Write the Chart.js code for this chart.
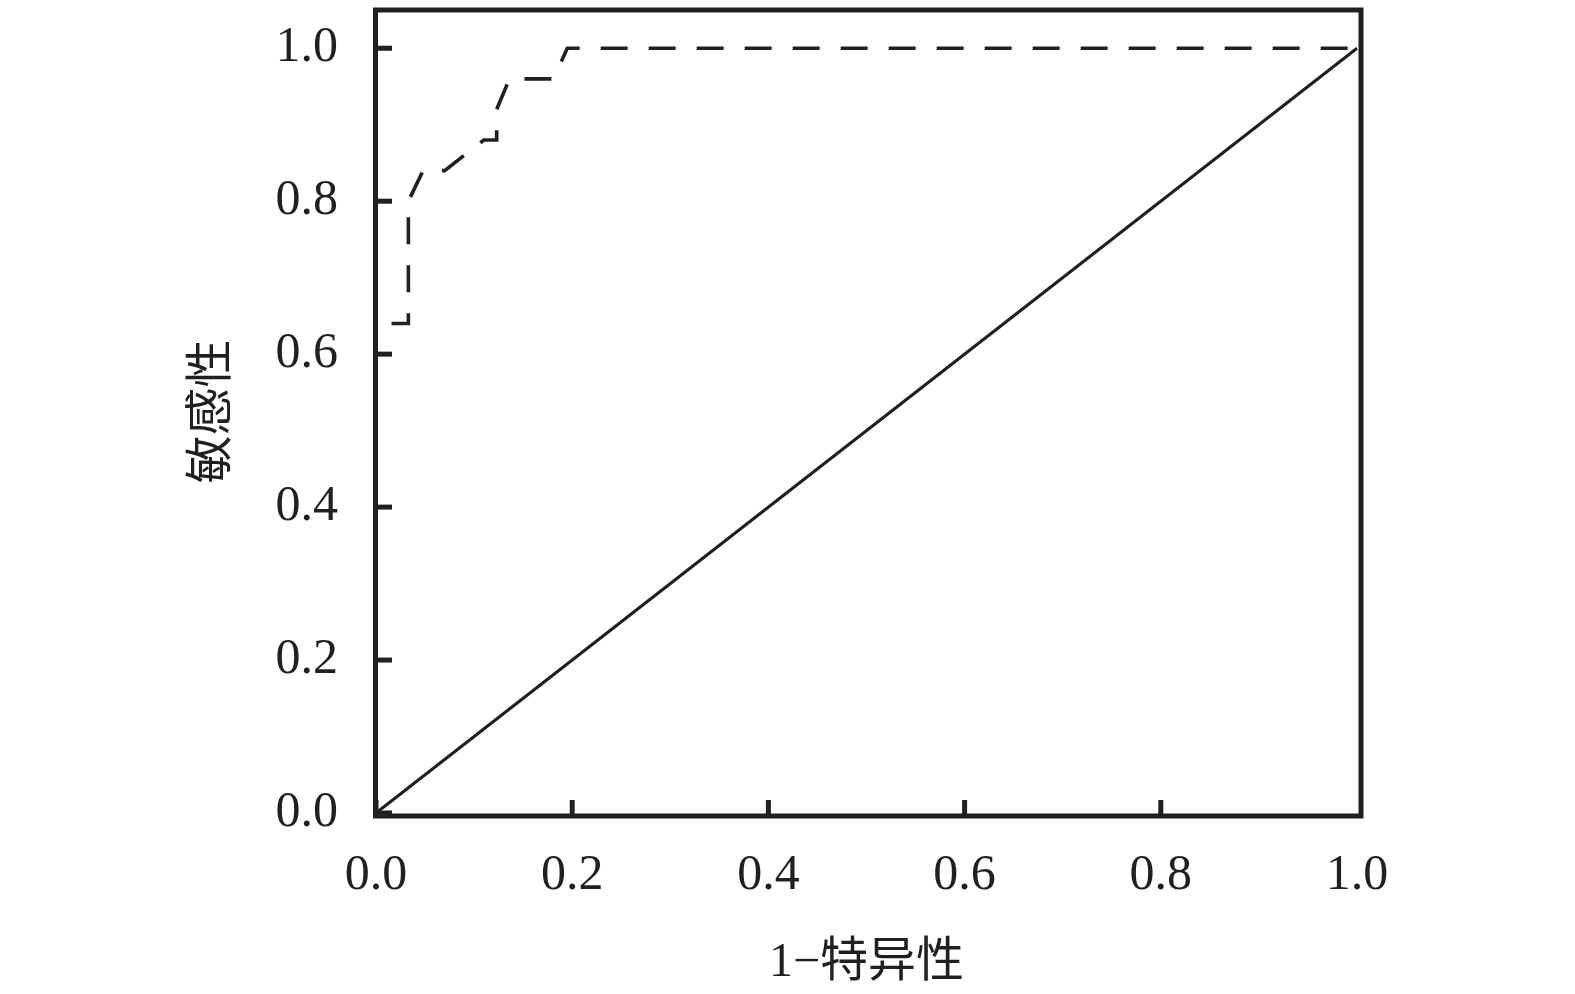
<!DOCTYPE html>
<html>
<head>
<meta charset="utf-8">
<script src="https://cdn.jsdelivr.net/npm/chart.js@4/dist/chart.umd.min.js"></script>
<style>
html,body{margin:0;padding:0;background:#fff;}
#wrap{width:1575px;height:994px;position:relative;}
</style>
</head>
<body>
<div id="wrap"><canvas id="c" width="1575" height="994"></canvas></div>
<script>
// ROC curve (1 - specificity, sensitivity)
const rocFpr = [0, 0, 0.033, 0.033, 0.048, 0.070, 0.110, 0.123, 0.123, 0.136, 0.181, 0.195, 1.0];
const rocTpr = [0, 0.64, 0.64, 0.80, 0.84, 0.84, 0.88, 0.88, 0.92, 0.96, 0.96, 1.0, 1.0];
// Reference diagonal
const refX = [0, 1];
const refY = [0, 1];
// Tick labels
const xTicks = [0.0, 0.2, 0.4, 0.6, 0.8, 1.0];
const yTicks = [0.0, 0.2, 0.4, 0.6, 0.8, 1.0];
const xTitle = '1\u2212特异性';
const yTitle = '敏感性';

const INK = '#231f20';
const tickFont = {family: "'Liberation Serif', 'Times New Roman', serif", size: 50};
const titleFont = {family: "'Liberation Serif', 'Noto Sans CJK SC', serif", size: 48};

const frame = {
  id: 'frame',
  afterDraw(chart) {
    const {ctx, chartArea: a, scales} = chart;
    ctx.save();
    ctx.strokeStyle = INK;
    ctx.lineWidth = 5;
    ctx.lineCap = 'butt';
    // inward ticks
    xTicks.forEach(v => {
      if (v >= 1) return;
      const p = scales.x.getPixelForValue(v);
      ctx.beginPath(); ctx.moveTo(p, a.bottom + 3); ctx.lineTo(p, a.bottom - 13); ctx.stroke();
    });
    yTicks.forEach(v => {
      const p = scales.y.getPixelForValue(v);
      ctx.beginPath(); ctx.moveTo(a.left - 1, p); ctx.lineTo(a.left + 16, p); ctx.stroke();
    });
    // frame
    ctx.lineJoin = 'miter';
    ctx.strokeRect(a.left - 0.5, a.top, (a.right + 4) - (a.left - 0.5), (a.bottom + 3) - a.top);
    ctx.restore();
  }
};

new Chart(document.getElementById('c'), {
  type: 'scatter',
  data: {
    datasets: [
      {
        data: rocFpr.map((x, i) => ({x, y: rocTpr[i]})),
        showLine: true,
        borderColor: INK,
        borderWidth: 3.6,
        borderDash: [27, 21],
        borderDashOffset: 23,
        pointRadius: 0,
        tension: 0,
        fill: false
      },
      {
        data: refX.map((x, i) => ({x, y: refY[i]})),
        showLine: true,
        borderColor: INK,
        borderWidth: 3.1,
        pointRadius: 0,
        tension: 0,
        fill: false
      }
    ]
  },
  options: {
    responsive: false,
    devicePixelRatio: 1,
    animation: false,
    clip: false,
    layout: {padding: {left: 0, right: 218, top: 10, bottom: 0}},
    plugins: {legend: {display: false}, tooltip: {enabled: false}},
    scales: {
      x: {
        type: 'linear',
        min: 0, max: 1,
        afterFit(s) { s.height = 181; s.paddingLeft = 0; s.paddingRight = 0; },
        afterBuildTicks(s) { s.ticks = xTicks.map(v => ({value: v})); },
        grid: {display: false, drawTicks: false},
        border: {display: false},
        ticks: {
          color: INK, font: tickFont, padding: 33, maxRotation: 0,
          callback: v => Number(v).toFixed(1)
        },
        title: {display: true, text: xTitle, color: INK, font: titleFont, padding: {top: 0, bottom: 2}}
      },
      y: {
        type: 'linear',
        min: 0, max: 1.05,
        afterFit(s) { s.width = 376; s.paddingTop = 0; s.paddingBottom = 0; },
        afterBuildTicks(s) { s.ticks = yTicks.map(v => ({value: v})); },
        grid: {display: false, drawTicks: false},
        border: {display: false},
        ticks: {
          color: INK, font: tickFont, padding: 38,
          callback: v => Number(v).toFixed(1)
        },
        title: {display: true, text: yTitle, color: INK, font: titleFont, padding: {top: 185, bottom: 0}}
      }
    }
  },
  plugins: [frame]
});
</script>
</body>
</html>
